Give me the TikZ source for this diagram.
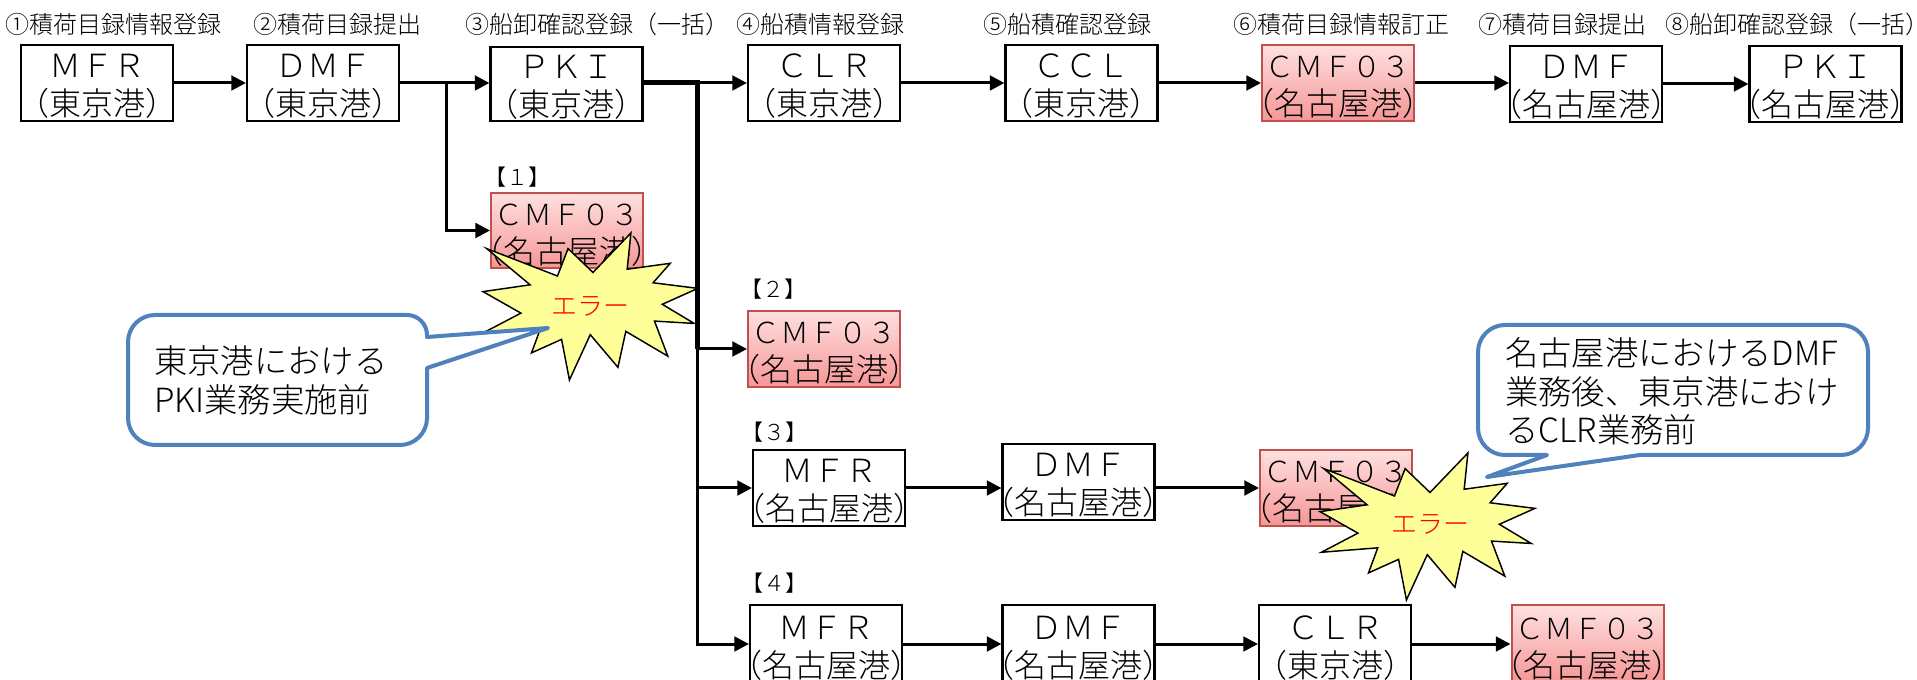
\documentclass[tikz,border=0pt]{standalone}
\usepackage{fontspec}
\setmainfont{Noto Sans CJK JP Light}
\usetikzlibrary{arrows.meta}
\definecolor{pinkT}{RGB}{255,224,224}
\definecolor{pinkB}{RGB}{245,150,150}
\definecolor{pinkD}{RGB}{192,80,77}
\definecolor{starY}{RGB}{255,255,153}
\definecolor{calB}{RGB}{79,129,189}
\definecolor{errR}{RGB}{255,0,0}
\newcommand{\fz}[1]{\fontsize{#1}{#1}\selectfont}
\newcommand{\lp}{\makebox[0.5em][r]{（}}
\newcommand{\rp}{\makebox[0.5em][l]{）}}
% #1 name, #2 style, #3 cx, #4 cy, #5 h, #6 line1, #7 line2
\newcommand{\mybox}[7]{%
  \node[#2, minimum width={152*0.75pt}, minimum height={#5*0.75pt}] (#1) at (#3,#4) {};
  \node[boxtxt, anchor=base] (#1-a) at (#3,#4-5) {#6};
  \node[boxtxt, anchor=base] (#1-b) at (#3,#4+33) {\lp #7\rp};
}
\newcommand{\seal}[2]{%
  \begin{scope}[shift={(#1,#2)}, x=165pt, y=-110.25pt]
  \draw[starsty] (0.5,0.2685) -- (0.6723,0) -- (0.6553,0.2465) -- (0.8509,0.2063)
    -- (0.7732,0.3387) -- (0.9767,0.3767) -- (0.8151,0.4850) -- (0.9599,0.6153)
    -- (0.7795,0.5992) -- (0.8400,0.8377) -- (0.6491,0.6693) -- (0.6133,0.9138)
    -- (0.4876,0.6914) -- (0.3928,1.0) -- (0.3572,0.7235) -- (0.2205,0.8156)
    -- (0.2624,0.6452) -- (0.0063,0.6753) -- (0.1723,0.5451) -- (0,0.3988)
    -- (0.2142,0.3526) -- (0.0171,0.1063) -- (0.3385,0.2926) -- (0.3867,0.1063) -- cycle;
  \end{scope}}
\begin{document}
\begin{tikzpicture}[x=0.75pt,y=-0.75pt,
  wbox/.style={draw=black, line width=1.6pt, fill=white, inner sep=0pt},
  pbox/.style={draw=pinkD, line width=1.5pt, top color=pinkT, bottom color=pinkB, inner sep=0pt},
  boxtxt/.style={inner sep=0pt, font=\fz{24}},
  steplbl/.style={anchor=base west, inner sep=0pt, font=\fz{18}},
  brlbl/.style={anchor=base west, inner sep=0pt, font=\fz{16.5}},
  calltxt/.style={anchor=base west, inner sep=0pt, font=\fz{25}},
  errtxt/.style={inner sep=0pt, font=\fz{19.5}, text=errR},
  conn/.style={line width=2.25pt},
  thk/.style={line width=3.75pt},
  arr/.style={conn, -{Triangle[length=11pt,width=11pt]}},
  starsty/.style={draw=black, line width=1.1pt, fill=starY, line join=miter},
  callsty/.style={draw=calB, line width=3pt, fill=white, line join=round}]
\useasboundingbox (0,0) rectangle (1917,680);
\clip (0,0) rectangle (1917,680);
\fill[white] (0,0) rectangle (1917,680);
% step labels
\node[steplbl] (s1) at (5,34) {①積荷目録情報登録};
\node[steplbl] (s2) at (253,34) {②積荷目録提出};
\node[steplbl] (s3) at (465,34) {③船卸確認登録（一括）};
\node[steplbl] (s4) at (736,34) {④船積情報登録};
\node[steplbl] (s5) at (983,34) {⑤船積確認登録};
\node[steplbl] (s6) at (1233,34) {⑥積荷目録情報訂正};
\node[steplbl] (s7) at (1478,34) {⑦積荷目録提出};
\node[steplbl] (s8) at (1665,34) {⑧船卸確認登録（一括）};
% top row
\mybox{mfr1}{wbox}{97}{83}{76}{ＭＦＲ}{東京港}
\mybox{dmf1}{wbox}{323}{83}{76}{ＤＭＦ}{東京港}
\mybox{pki1}{wbox}{566.5}{84}{74}{ＰＫＩ}{東京港}
\mybox{clr1}{wbox}{824}{83}{76}{ＣＬＲ}{東京港}
\mybox{ccl1}{wbox}{1081.5}{83}{76}{ＣＣＬ}{東京港}
\mybox{cmf1}{pbox}{1338}{83}{76}{\fz{21.75}ＣＭＦ０３}{名古屋港}
\mybox{dmf2}{wbox}{1586}{84}{76}{ＤＭＦ}{名古屋港}
\mybox{pki2}{wbox}{1825.5}{84}{76}{ＰＫＩ}{名古屋港}
% branch [1]
\node[brlbl] (b1) at (484,186) {【１】};
\mybox{cmfA}{pbox}{567}{230.5}{75}{\fz{21.75}ＣＭＦ０３}{名古屋港}
% branch [2]
\node[brlbl] (b2) at (740,298) {【２】};
\mybox{cmfB}{pbox}{824}{349}{76}{\fz{21.75}ＣＭＦ０３}{名古屋港}
% branch [3]
\node[brlbl] (b3) at (741,441) {【３】};
\mybox{mfr3}{wbox}{829}{488}{76}{ＭＦＲ}{名古屋港}
\mybox{dmf3}{wbox}{1078.5}{482}{76}{ＤＭＦ}{名古屋港}
\mybox{cmfC}{pbox}{1336}{488}{76}{\fz{21.75}ＣＭＦ０３}{名古屋港}
% branch [4]
\node[brlbl] (b4) at (741,591) {【４】};
\mybox{mfr4}{wbox}{826}{644}{78}{ＭＦＲ}{名古屋港}
\mybox{dmf4}{wbox}{1078.5}{644}{78}{ＤＭＦ}{名古屋港}
\mybox{clr4}{wbox}{1335}{644}{78}{ＣＬＲ}{東京港}
\mybox{cmfD}{pbox}{1587.5}{644}{78}{\fz{21.75}ＣＭＦ０３}{名古屋港}
% connectors
\coordinate (jA) at (446,83);
\coordinate (jB) at (697,83);
\coordinate (j2) at (697,349);
\coordinate (j3) at (697,488);
\draw[arr] (mfr1) -- (dmf1);
\draw[conn] (dmf1.east) -- (jA);
\draw[arr] (jA) -- (jA -| pki1.west);
\draw[arr] (jA) |- (cmfA);
\draw[thk] (pki1.east |- jB) -- (jB) -- (j2);
\draw[arr] (jB) -- (clr1);
\draw[arr] (clr1) -- (ccl1);
\draw[arr] (ccl1) -- (cmf1);
\draw[arr] (cmf1) -- (dmf2.west |- cmf1.east);
\draw[arr] (dmf2) -- (pki2);
\draw[arr] (j2) -- (cmfB);
\draw[arr] (j2) |- (mfr4);
\draw[arr] (j3) -- (mfr3);
\draw[arr] (mfr3.east) -- (mfr3.east -| dmf3.west);
\draw[arr] (dmf3.east |- cmfC.west) -- (cmfC.west);
\draw[arr] (mfr4) -- (dmf4);
\draw[arr] (dmf4) -- (clr4);
\draw[arr] (clr4) -- (cmfD);
% explosions
\seal{483}{233}
\seal{1320}{453}
\node[errtxt] (e1) at (590,306) {エラー};
\node[errtxt] (e2) at (1430,524) {エラー};
% callout 1
\draw[callsty] (155,315) -- (407,315) arc[start angle=-90,end angle=0,radius=20]
  -- (427,337) -- (548,328) -- (427,368) -- (427,418)
  arc[start angle=0,end angle=90,radius=27] -- (155,445)
  arc[start angle=90,end angle=180,radius=27] -- (128,342)
  arc[start angle=180,end angle=270,radius=27] -- cycle;
\node[calltxt] (c1a) at (154,374) {東京港における};
\node[calltxt] (c1b) at (154,413) {PKI業務実施前};
% callout 2
\draw[callsty] (1505,325) -- (1841,325) arc[start angle=-90,end angle=0,radius=27]
  -- (1868,428) arc[start angle=0,end angle=90,radius=27]
  -- (1640,455) -- (1487,477) -- (1547,455) -- (1505,455)
  arc[start angle=90,end angle=180,radius=27] -- (1478,352)
  arc[start angle=180,end angle=270,radius=27] -- cycle;
\node[calltxt] (c2a) at (1505,366) {名古屋港におけるDMF};
\node[calltxt] (c2b) at (1505,405) {業務後、東京港におけ};
\node[calltxt] (c2c) at (1505,443) {るCLR業務前};
\end{tikzpicture}
\end{document}
